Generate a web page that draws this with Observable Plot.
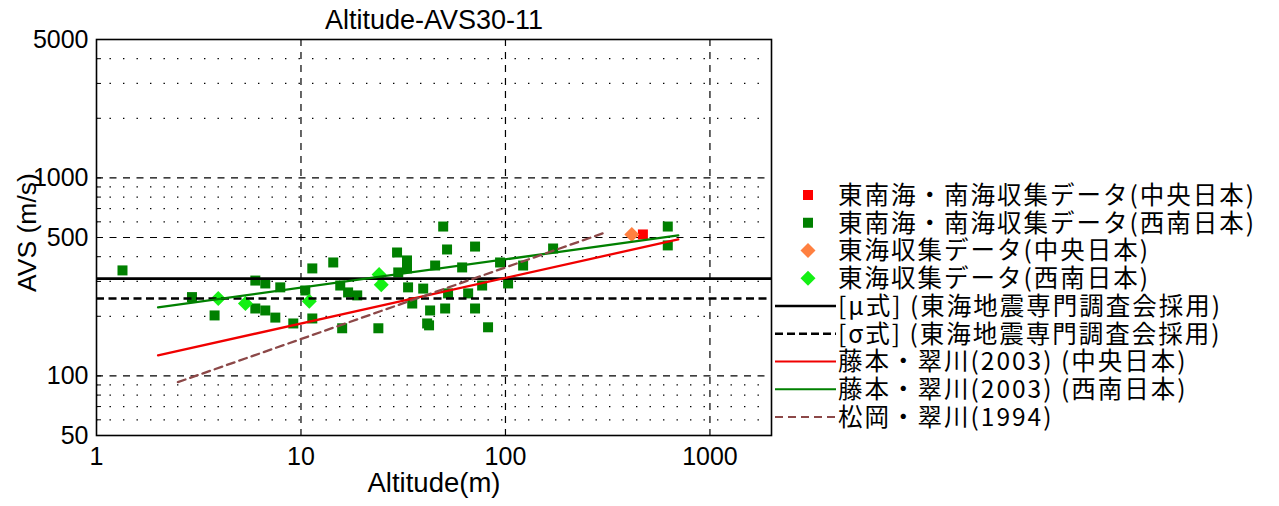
<!DOCTYPE html>
<html><head><meta charset="utf-8">
<script src="https://cdn.jsdelivr.net/npm/d3@7"></script>
<script src="https://cdn.jsdelivr.net/npm/@observablehq/plot@0.6"></script>
<style>
html,body{margin:0;padding:0;background:#fff;}
#chart{position:relative;width:1279px;height:506px;}
</style></head><body><div id="chart"></div>
<script>
// ---- text ----
const title = "Altitude-AVS30-11";
const xLabel = "Altitude(m)";
const yLabel = "AVS (m/s)";
// ---- ticks / grid ----
const xTicks = [1, 10, 100, 1000];
const yTicks = [50, 100, 500, 1000, 5000];
const xMajorGrid = [10, 100, 1000];
const yMajorGrid = [100, 500, 1000];
const yMinorGrid = [60, 70, 80, 90, 200, 300, 400, 600, 700, 800, 900, 2000, 3000, 4000];
// ---- scatter data ----
// 東南海・南海収集データ(中央日本)
const tnCentralX = [470];
const tnCentralY = [518];
// 東南海・南海収集データ(西南日本)
const tnSouthwestX = [1.34, 2.93, 3.78, 5.98, 6.69, 5.98, 6.69, 7.92, 7.49, 9.17, 11.36, 14.38, 10.5, 11.36, 15.56, 15.9, 17.0, 18.84, 23.9,
  29.5, 33.0, 33.0, 29.9, 33.4, 35.0, 41.4, 49.6, 51.8, 71.0, 45.3, 61.4, 39.6, 52.4, 65.7, 76.9, 94.1, 103, 122,
  42.8, 50.7, 71.0, 42.3, 82.2, 171, 622, 622];
const tnSouthwestY = [341, 250, 202, 303, 293, 219, 214, 280, 197, 184, 349, 374, 270, 195, 286, 174, 264, 255, 174,
  420, 383, 349, 333, 280, 232, 184, 568, 435, 450, 361, 353, 276, 261, 261, 286, 374, 293, 361,
  214, 219, 219, 180, 176, 440, 568, 456];
// 東海収集データ(中央日本)
const tkCentralX = [415];
const tkCentralY = [518];
// 東海収集データ(西南日本)
const tkSouthwestX = [3.94, 5.35, 10.98, 24.1, 24.7];
const tkSouthwestY = [246, 232, 238, 325, 289];
// ---- reference lines ----
const muValue = 310;      // [μ式]
const sigmaValue = 246;   // [σ式]
const fujiCentralX = [2, 700];
const fujiCentralY = [127, 489];
const fujiSouthwestX = [2, 700];
const fujiSouthwestY = [222, 512];
const matsuokaX = [2.5, 300];
const matsuokaY = [93, 525];
// ---- legend ----
const legendLabels = [
  "東南海・南海収集データ(中央日本)",
  "東南海・南海収集データ(西南日本)",
  "東海収集データ(中央日本)",
  "東海収集データ(西南日本)",
  "[μ式] (東海地震専門調査会採用)",
  "[σ式] (東海地震専門調査会採用)",
  "藤本・翠川(2003) (中央日本)",
  "藤本・翠川(2003) (西南日本)",
  "松岡・翠川(1994)"
];

const C = {
  red: "#ff0000", dkgreen: "#008000", orange: "#ff8040", ltgreen: "#14f014",
  redLine: "#f00000", greenLine: "#008000", brown: "#8c4848"
};

const squareSym = {draw(ctx, size) { const r = Math.sqrt(size / Math.PI); ctx.rect(-r, -r, 2 * r, 2 * r); }};
const diamondSym = {draw(ctx, size) { const r = Math.sqrt(size / Math.PI); ctx.moveTo(0, -r); ctx.lineTo(r, 0); ctx.lineTo(0, r); ctx.lineTo(-r, 0); ctx.closePath(); }};

const zip = (xs, ys) => xs.map((x, i) => ({x, y: ys[i]}));

const fontLatin = "'Liberation Sans', Arial, Helvetica, sans-serif";

const plot = Plot.plot({
  width: 1279, height: 506,
  marginLeft: 96, marginRight: 508, marginTop: 39, marginBottom: 71,
  x: {type: "log", domain: [1, 2000]},
  y: {type: "log", domain: [50, 5000]},
  style: {fontFamily: fontLatin, background: "white", color: "black", overflow: "visible"},
  marks: [
    Plot.ruleY(yMinorGrid, {stroke: "black", strokeWidth: 1.3, strokeDasharray: "1.4,12.1"}),
    Plot.ruleY(yMajorGrid, {stroke: "black", strokeWidth: 1.2, strokeDasharray: "7,6.5"}),
    Plot.ruleX(xMajorGrid, {stroke: "black", strokeWidth: 1.2, strokeDasharray: "7,6"}),
    Plot.axisY({ticks: [...yMinorGrid, ...yMajorGrid], tickSize: -5, tickFormat: () => "", label: null}),
    Plot.axisY({ticks: yTicks, tickSize: 0, tickPadding: 8, tickFormat: d => String(d), fontSize: 25, label: null}),
    Plot.axisX({ticks: xTicks, tickSize: 0, tickPadding: 12, tickFormat: d => String(d), fontSize: 25, label: null}),
    Plot.dot(zip(tnSouthwestX, tnSouthwestY), {x: "x", y: "y", symbol: squareSym, r: 5, fill: C.dkgreen}),
    Plot.dot(zip(tnCentralX, tnCentralY), {x: "x", y: "y", symbol: squareSym, r: 5, fill: C.red}),
    Plot.dot(zip(tkCentralX, tkCentralY), {x: "x", y: "y", symbol: diamondSym, r: 7.5, fill: C.orange}),
    Plot.dot(zip(tkSouthwestX, tkSouthwestY), {x: "x", y: "y", symbol: diamondSym, r: 7.5, fill: C.ltgreen}),
    Plot.ruleY([muValue], {stroke: "black", strokeWidth: 2.6}),
    Plot.ruleY([sigmaValue], {stroke: "black", strokeWidth: 2.6, strokeDasharray: "8,4.5"}),
    Plot.line(zip(fujiCentralX, fujiCentralY), {x: "x", y: "y", stroke: C.redLine, strokeWidth: 2.3}),
    Plot.line(zip(fujiSouthwestX, fujiSouthwestY), {x: "x", y: "y", stroke: C.greenLine, strokeWidth: 2.3}),
    Plot.line(zip(matsuokaX, matsuokaY), {x: "x", y: "y", stroke: C.brown, strokeWidth: 2.3, strokeDasharray: "8,5"}),
    Plot.frame({stroke: "black", strokeWidth: 1.6}),
    Plot.text([title], {frameAnchor: "top", lineAnchor: "middle", textAnchor: "middle", dy: -19, fontSize: 27, fill: "black"}),
    Plot.text([xLabel], {frameAnchor: "bottom", lineAnchor: "middle", textAnchor: "middle", dy: 48, fontSize: 27.5, fill: "black"}),
    Plot.text([yLabel], {frameAnchor: "left", lineAnchor: "middle", textAnchor: "middle", dx: -69, dy: -5, rotate: -90, fontSize: 26.5, fill: "black"})
  ]
});

document.getElementById("chart").appendChild(plot);

// legend drawn into the same svg
const legendItems = [
  {kind: "marker", symbol: squareSym, r: 5, color: C.red},
  {kind: "marker", symbol: squareSym, r: 5, color: C.dkgreen},
  {kind: "marker", symbol: diamondSym, r: 7.5, color: C.orange},
  {kind: "marker", symbol: diamondSym, r: 7.5, color: C.ltgreen},
  {kind: "line", color: "black", width: 2.4, dash: null},
  {kind: "line", color: "black", width: 2.4, dash: "8,4"},
  {kind: "line", color: C.redLine, width: 2.2, dash: null},
  {kind: "line", color: C.greenLine, width: 2.2, dash: null},
  {kind: "line", color: C.brown, width: 2.2, dash: "8,5"}
];
const svg = d3.select(plot);
const lg = svg.append("g")
  .style("font-family", "'Noto Sans CJK JP', 'Noto Sans', sans-serif")
  .style("font-size", "24.5px")
  .style("letter-spacing", "2px")
  .style("text-anchor", "start");
legendItems.forEach((d, i) => {
  const y = 195 + i * 27.75;
  if (d.kind === "marker") {
    lg.append("path")
      .attr("d", d3.symbol(d.symbol, Math.PI * d.r * d.r)())
      .attr("transform", `translate(808,${y})`)
      .attr("fill", d.color);
  } else {
    lg.append("line")
      .attr("x1", 775).attr("x2", 836).attr("y1", y).attr("y2", y)
      .attr("stroke", d.color).attr("stroke-width", d.width)
      .attr("stroke-dasharray", d.dash);
  }
  lg.append("text").attr("x", 838).attr("y", y).attr("dy", "0.36em")
    .attr("fill", "black").attr("text-anchor", "start").text(legendLabels[i]);
});
</script></body></html>
